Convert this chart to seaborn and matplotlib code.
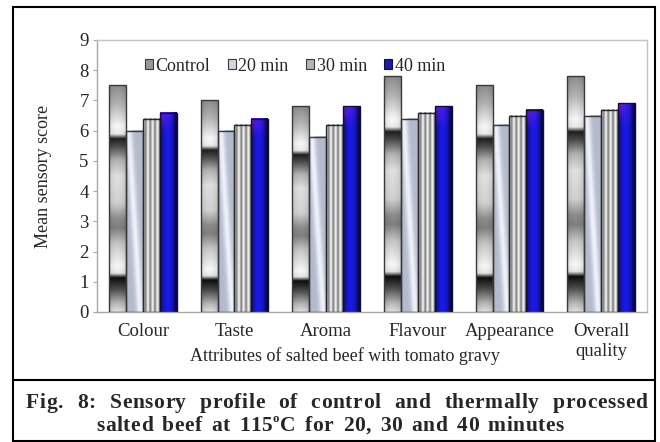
import numpy as np
import pandas as pd
import seaborn as sns
import matplotlib.pyplot as plt
from matplotlib.patches import Patch
from matplotlib.lines import Line2D

# =====================
# Data
# =====================
attributes = ["Colour", "Taste", "Aroma", "Flavour", "Appearance", "Overall\nquality"]
treatments = ["Control", "20 min", "30 min", "40 min"]
control = [7.5, 7.0, 6.8, 7.8, 7.5, 7.8]
min20 = [6.0, 6.0, 5.8, 6.4, 6.2, 6.5]
min30 = [6.4, 6.2, 6.2, 6.6, 6.5, 6.7]
min40 = [6.6, 6.4, 6.8, 6.8, 6.7, 6.9]
yticks = list(range(0, 10))

df = pd.DataFrame({
    "attribute": attributes * 4,
    "treatment": np.repeat(treatments, len(attributes)),
    "score": control + min20 + min30 + min40,
})

W, H = 660, 442

sns.set_style("white")
plt.rcParams["font.family"] = ["Liberation Serif", "DejaVu Serif"]


def fx(px):
    return px / W


def fy(py):
    return 1 - py / H


# =====================
# Gradient fills for the bars
# =====================
def img_control(ny=300, nx=24):
    sv = [0, 0.08, 0.18, 0.215, 0.235, 0.27, 0.33, 0.40, 0.52, 0.59, 0.63, 0.70, 0.80, 0.83, 0.85, 0.90, 0.96, 1.0]
    sg = [0.55, 0.70, 0.97, 0.92, 0.12, 0.30, 0.70, 0.88, 0.82, 0.55, 0.50, 0.78, 0.97, 0.90, 0.05, 0.30, 0.70, 0.88]
    g = np.interp(np.linspace(0, 1, ny), sv, sg)
    u = np.linspace(0, 1, nx)
    h = 0.9 + 0.1 * np.sin(np.pi * u)
    a = np.clip(g[:, None] * h[None, :], 0, 1)
    return np.dstack([a, a, a])


def img_20(ny=300, nx=24):
    u = np.linspace(0, 1, nx)[None, :]
    v = np.linspace(0, 1, ny)[:, None]
    t = np.exp(-((u - (0.15 + 0.7 * v)) / 0.22) ** 2)
    lo = np.array([0.70, 0.73, 0.80])
    hi = np.array([0.94, 0.95, 0.98])
    return lo + (hi - lo) * t[..., None]


def img_30(ny=300, nx=40):
    u = np.linspace(0, 1, nx)[None, :]
    g = 0.74 + 0.22 * np.cos(2 * np.pi * 3.5 * u)
    g = np.repeat(g, ny, axis=0)
    return np.dstack([g, g, g])


def img_40(ny=300, nx=24):
    u = np.linspace(0, 1, nx)[None, :]
    v = np.linspace(0, 1, ny)[:, None]
    f = np.sin(np.pi * np.clip(u * 1.1, 0, 1)) ** 0.7
    dark = np.array([0.03, 0.03, 0.30])
    bright = np.array([0.10, 0.10, 0.90])
    c = dark + (bright - dark) * f[..., None]
    c = np.broadcast_to(c, (ny, nx, 3)).copy()
    purple = np.array([0.55, 0.12, 0.95])
    m = np.clip(1 - v / 0.10, 0, 1) * 0.75 * np.clip(1 - u, 0, 1)
    c = c * (1 - m[..., None]) + purple * m[..., None]
    return c


fills = [img_control(), img_20(), img_30(), img_40()]
edges = ["#3a3a3a", "#3a3a3a", "#2a2a2a", "#101030"]

# =====================
# Plot
# =====================
fig = plt.figure(figsize=(W / 100, H / 100), dpi=100)
ax = fig.add_axes([fx(97), fy(312), 550 / W, 272 / H])

sns.barplot(data=df, x="attribute", y="score", hue="treatment",
            order=attributes, hue_order=treatments, width=0.74,
            errorbar=None, legend=False, ax=ax)

for i, cont in enumerate(ax.containers):
    for bar in cont:
        x0, w, h = bar.get_x(), bar.get_width(), bar.get_height()
        ax.imshow(fills[i], extent=[x0, x0 + w, 0, h], aspect="auto",
                  origin="upper", interpolation="bilinear", zorder=2)
        bar.set_facecolor("none")
        bar.set_edgecolor(edges[i])
        bar.set_linewidth(1.0)
        bar.set_zorder(3)

ax.set_xlim(-0.5, len(attributes) - 0.5)
ax.set_ylim(0, 9)
ax.set_yticks(yticks)
ax.set_xlabel("")
ax.set_ylabel("")
for s in ax.spines.values():
    s.set_color("#c4c4c4")
    s.set_linewidth(1.0)
ax.spines["left"].set_color("#a8a8a8")
ax.spines["bottom"].set_color("#a8a8a8")
ax.tick_params(axis="y", length=3, color="#a8a8a8", labelsize=13.5, pad=3, left=True)
ax.tick_params(axis="x", length=0, labelsize=13.5, pad=8)

fig.text(fx(44), fy(176), "Mean sensory score", rotation=90,
         ha="center", va="center", fontsize=13)
fig.text(fx(345), fy(356), "Attributes of salted beef with tomato gravy",
         ha="center", va="center", fontsize=13)

handles = [
    Patch(facecolor="#9a9a9a", edgecolor="#3a3a3a", lw=0.8),
    Patch(facecolor="#d2d6e0", edgecolor="#3a3a3a", lw=0.8),
    Patch(facecolor="#b4b4b4", edgecolor="#3a3a3a", lw=0.8),
    Patch(facecolor="#1a1ab0", edgecolor="#101030", lw=0.8),
]
ax.legend(handles, treatments, loc="upper left", bbox_to_anchor=(0.087, 0.935),
          ncol=4, frameon=False, fontsize=13, borderpad=0, borderaxespad=0,
          handlelength=0.45, handleheight=0.45, handletextpad=0.15,
          columnspacing=0.95)

# =====================
# Frame and caption
# =====================
fig.add_artist(plt.Rectangle((fx(13), fy(441)), (655 - 13) / W, (441 - 7) / H,
                             transform=fig.transFigure, fill=False,
                             edgecolor="black", lw=1.5))
fig.add_artist(Line2D([fx(13), fx(655)], [fy(380), fy(380)],
                      transform=fig.transFigure, color="black", lw=1.5))

renderer = fig.canvas.get_renderer()
cap_size = 15.5
track = 0.6


def char_width(c, size):
    t = fig.text(0, 0, c, fontsize=size, fontweight="bold")
    w = t.get_window_extent(renderer).width
    t.remove()
    return w


def word_layout(word):
    out = []
    for c in word:
        if c == "º":
            out.append(("o", cap_size * 0.6, -0.40 * cap_size * 100 / 72))
        else:
            out.append((c, cap_size, 0))
    return out


def justified_line(text, x0, x1, baseline):
    words = [word_layout(w) for w in text.split(" ")]
    widths = [sum(char_width(c, s) + track for c, s, _ in wd) - track for wd in words]
    gap = (x1 - x0 - sum(widths)) / (len(words) - 1)
    x = x0
    for wd, ww in zip(words, widths):
        for c, s, dy in wd:
            fig.text(fx(x), fy(baseline + dy), c, fontsize=s, fontweight="bold",
                     ha="left", va="baseline")
            x += char_width(c, s) + track
        x = x - track + gap


justified_line("Fig. 8: Sensory profile of control and thermally processed", 26, 647, 408)
justified_line("salted beef at 115ºC for 20, 30 and 40 minutes", 96, 564, 431)

fig.savefig("out.png", dpi=100, facecolor="white")
